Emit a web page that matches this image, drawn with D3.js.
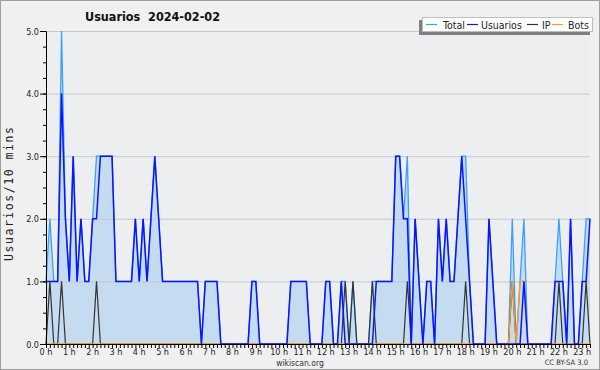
<!DOCTYPE html>
<html><head><meta charset="utf-8">
<script src="https://cdn.jsdelivr.net/npm/d3@7"></script>
<style>
html,body{margin:0;padding:0;background:#f0f0f0;}
svg{display:block;}
text{font-family:"DejaVu Sans Condensed","DejaVu Sans",sans-serif;font-stretch:condensed;}
</style></head>
<body><svg id="c" width="600" height="370"></svg>
<script>
const title = "Usuarios  2024-02-02";
const yLabel = "Usuarios/10 mins";
const hourLabels = d3.range(24).map(h => h + " h");
const yTicks = [0,1,2,3,4,5];
const seriesNames = ["Total","Usuarios","IP","Bots"];
const seriesColors = ["#3ca0ff","#0a14ff","#333333","#ff9a1a"];

const total = [
1,2,1,1,5,2,1,3,1,2,
1,1,2,3,3,3,3,3,1,1,
1,1,1,2,1,2,1,2,3,2,
1,1,1,1,1,1,1,1,1,1,
0,1,1,1,1,0,0,0,0,0,
0,0,0,1,1,0,0,0,0,0,
0,0,0,1,1,1,1,1,0,0,
0,0,1,1,0,0,1,1,0,1,
0,0,0,0,1,1,1,1,1,1,
3,3,2,3,0,2,1,0,1,1,
0,2,1,2,1,1,2,3,3,1,
0,0,0,0,2,1,0,0,0,0,
2,0,1,2,0,0,0,0,0,0,
0,1,2,1,0,2,0,0,1,2,
2];
const usuarios = [
1,1,1,1,4,2,1,3,1,2,
1,1,2,2,3,3,3,3,1,1,
1,1,1,2,1,2,1,2,3,2,
1,1,1,1,1,1,1,1,1,1,
0,1,1,1,1,0,0,0,0,0,
0,0,0,1,1,0,0,0,0,0,
0,0,0,1,1,1,1,1,0,0,
0,0,1,1,0,0,1,0,0,0,
0,0,0,0,0,1,1,1,1,1,
3,3,2,2,0,2,1,0,1,1,
0,2,1,2,1,1,2,3,2,1,
0,0,0,0,2,1,0,0,0,0,
0,0,0,1,0,0,0,0,0,0,
0,1,1,1,0,2,0,0,1,1,
2];
const ip = [
0,1,0,0,1,0,0,0,0,0,
0,0,0,1,0,0,0,0,0,0,
0,0,0,0,0,0,0,0,0,0,
0,0,0,0,0,0,0,0,0,0,
0,0,0,0,0,0,0,0,0,0,
0,0,0,0,0,0,0,0,0,0,
0,0,0,0,0,0,0,0,0,0,
0,0,0,0,0,0,0,1,0,1,
0,0,0,0,1,0,0,0,0,0,
0,0,0,1,0,0,0,0,0,0,
0,0,0,0,0,0,0,0,1,0,
0,0,0,0,0,0,0,0,0,0,
1,0,0,0,0,0,0,0,0,0,
0,0,1,0,0,0,0,0,0,1,
0];
const bots = [
0,0,0,0,0,0,0,0,0,0,
0,0,0,0,0,0,0,0,0,0,
0,0,0,0,0,0,0,0,0,0,
0,0,0,0,0,0,0,0,0,0,
0,0,0,0,0,0,0,0,0,0,
0,0,0,0,0,0,0,0,0,0,
0,0,0,0,0,0,0,0,0,0,
0,0,0,0,0,0,0,0,0,0,
0,0,0,0,0,0,0,0,0,0,
0,0,0,0,0,0,0,0,0,0,
0,0,0,0,0,0,0,0,0,0,
0,0,0,0,0,0,0,0,0,0,
1,0,1,1,0,0,0,0,0,0,
0,0,0,0,0,0,0,0,0,0,
0];

const svg = d3.select("#c");
const L=46, R=590, T=31, B=344;
const n = total.length;
const x = d3.scaleLinear().domain([0, n-1]).range([L, R]);
const y = d3.scaleLinear().domain([0, 5]).range([B, T]);

// background
svg.append("rect").attr("x",0.5).attr("y",0.5).attr("width",599).attr("height",369)
  .attr("fill","#f0f0f0").attr("stroke","#a0a0a0");
svg.append("rect").attr("x",L).attr("y",T).attr("width",R-L).attr("height",B-T).attr("fill","#edeef0");

// total area
const area = d3.area().x((d,i)=>x(i)).y0(B).y1(d=>y(d));
svg.append("path").datum(total).attr("d",area).attr("fill","#c5dcf0");

// grid
svg.append("g").selectAll("line").data(yTicks.filter(v=>v>0)).join("line")
  .attr("x1",L).attr("x2",R).attr("y1",d=>y(d)+0.5).attr("y2",d=>y(d)+0.5)
  .attr("stroke","#c8c8cc").attr("stroke-width",1);

// lines
const line = d3.line().x((d,i)=>x(i)).y(d=>y(d));
const series = [total, usuarios, ip, bots];
const widths = [1.3, 1.5, 1.2, 1.3];
[0,2,3,1].forEach(k=>{
  svg.append("path").datum(series[k]).attr("d",line).attr("fill","none")
    .attr("stroke",seriesColors[k]).attr("stroke-width",widths[k]).attr("stroke-linejoin","miter");
});

// y axis
const yAxis = d3.axisLeft(y).tickValues(yTicks).tickFormat(d3.format(".1f")).tickSize(6).tickPadding(1);
const gy = svg.append("g").attr("transform",`translate(${L},0)`).call(yAxis);
gy.select(".domain").attr("stroke","#000");
gy.selectAll("text").attr("font-size","9px").attr("fill","#222").attr("dy","0.35em");
const yMinor = d3.axisLeft(y).tickValues(d3.range(0,5.01,0.25)).tickFormat("").tickSize(3);
svg.append("g").attr("transform",`translate(${L},0)`).call(yMinor).select(".domain").remove();

// x axis
const xAxis = d3.axisBottom(x).tickValues(d3.range(0,n)).tickFormat("").tickSize(4).tickSizeOuter(0);
const gx = svg.append("g").attr("transform",`translate(0,${B})`).call(xAxis);
gx.select(".domain").attr("stroke","#000");
svg.append("g").selectAll("text").data(hourLabels).join("text")
  .attr("x",(d,i)=>x(i*6)).attr("y",355).attr("text-anchor","middle")
  .attr("font-size","9px").attr("fill","#222").text(d=>d);

// title
svg.append("text").attr("x",85).attr("y",21).attr("font-size","12.5px").attr("font-weight","bold")
  .attr("fill","#111").attr("xml:space","preserve").style("white-space","pre").text(title);

// y label
svg.append("text").attr("transform","translate(13,194) rotate(-90)").attr("text-anchor","middle")
  .style("font-family","'DejaVu Sans Mono',monospace").style("font-stretch","normal")
  .attr("font-size","11.5px").attr("textLength",134).attr("lengthAdjust","spacing")
  .attr("fill","#222").text(yLabel);

// footer
svg.append("text").attr("x",300).attr("y",366).attr("text-anchor","middle").attr("font-size","8.5px").attr("fill","#333").text("wikiscan.org");
svg.append("text").attr("x",588).attr("y",365).attr("text-anchor","end").attr("font-size","7.5px").attr("fill","#333").text("CC BY-SA 3.0");

// legend
const lg = svg.append("g");
lg.append("rect").attr("x",419).attr("y",20).attr("width",171).attr("height",15).attr("fill","#808080");
lg.append("rect").attr("x",422.5).attr("y",17.5).attr("width",170).attr("height",14).attr("fill","#fff").attr("stroke","#bdbdbd");
const lx = [426, 467, 527, 552];
const tx = [443, 481, 542, 568];
seriesNames.forEach((nm,k)=>{
  lg.append("line").attr("x1",lx[k]).attr("x2",lx[k]+11).attr("y1",24.5).attr("y2",24.5)
    .attr("stroke",seriesColors[k]).attr("stroke-width",1.2);
  lg.append("text").attr("x",tx[k]).attr("y",28.5).attr("font-size","10.5px").attr("fill","#222").text(nm);
});
</script></body></html>
